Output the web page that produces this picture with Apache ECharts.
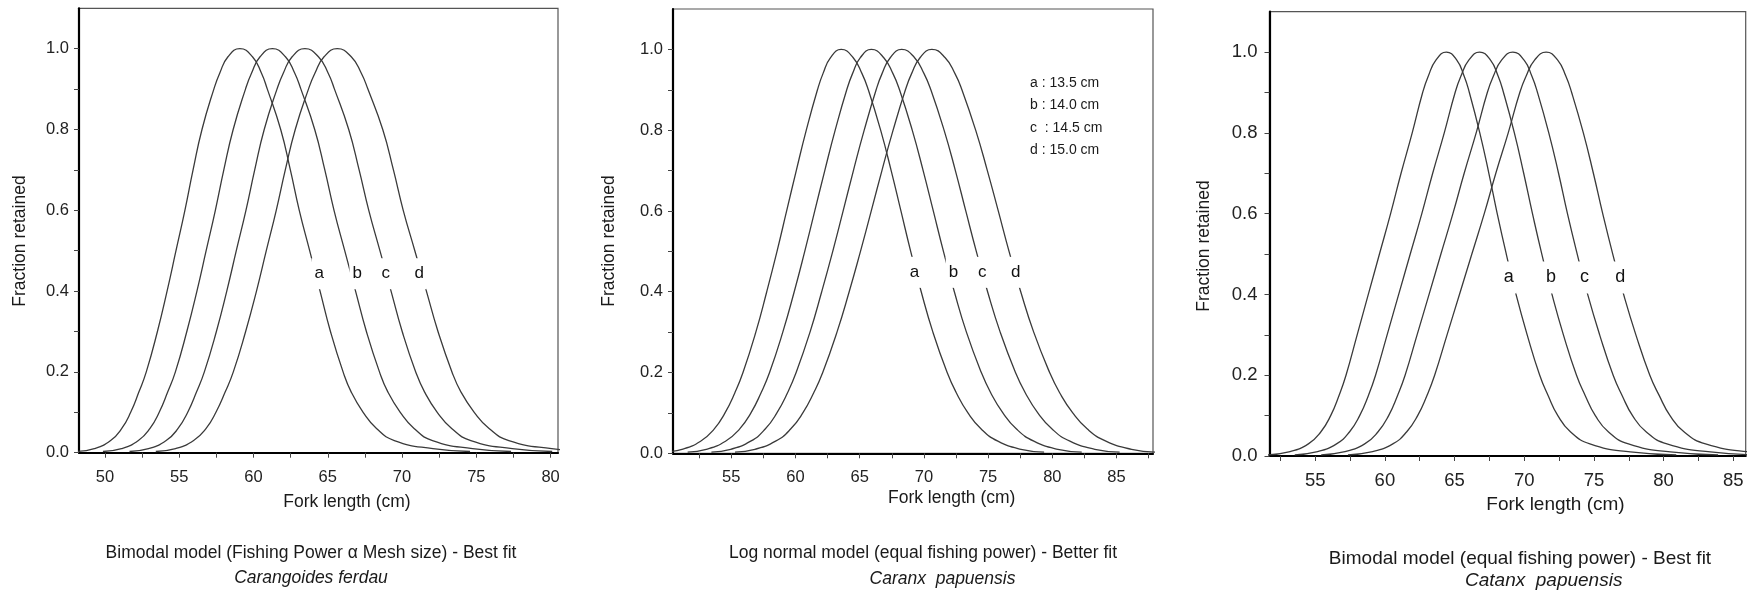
<!DOCTYPE html>
<html><head><meta charset="utf-8">
<script src="https://cdn.jsdelivr.net/npm/echarts/dist/echarts.min.js"></script>
<style>html,body{margin:0;padding:0;background:#fff}#c{width:1760px;height:593px}</style>
</head><body><div id="c"></div>
<script>
// Fraction retained levels at which fork lengths were read (rising side, peak, falling side)
const levels = [0.003, 0.01, 0.03, 0.06, 0.1, 0.15, 0.2, 0.3, 0.4, 0.5, 0.6, 0.7, 0.8, 0.9, 0.94, 0.98, 1.0,
                0.98, 0.94, 0.9, 0.8, 0.7, 0.6, 0.5, 0.4, 0.3, 0.2, 0.15, 0.1, 0.06, 0.03, 0.01, 0.003];
const curveNames = ['a', 'b', 'c', 'd'];

// Panel 1: Bimodal (fishing power ~ mesh size), Carangoides ferdau
const p1_a = [48.08, 49.28, 50.38, 51.13, 51.73, 52.28, 52.78, 53.53, 54.18, 54.78, 55.38, 55.93, 56.53, 57.33, 57.73, 58.28, 59.08, 59.93, 60.53, 60.93, 61.83, 62.48, 63.08, 63.78, 64.48, 65.18, 66.03, 66.58, 67.38, 68.28, 69.48, 72.08, 74.58];
const p1_b = [49.86, 51.11, 52.25, 53.03, 53.65, 54.22, 54.74, 55.51, 56.19, 56.81, 57.43, 58.00, 58.63, 59.46, 59.87, 60.44, 61.27, 62.15, 62.77, 63.19, 64.12, 64.80, 65.42, 66.14, 66.87, 67.60, 68.48, 69.05, 69.88, 70.81, 72.05, 74.75, 77.34];
const p1_c = [51.65, 52.93, 54.12, 54.92, 55.57, 56.16, 56.69, 57.50, 58.20, 58.84, 59.49, 60.08, 60.72, 61.58, 62.01, 62.60, 63.46, 64.37, 65.02, 65.45, 66.41, 67.11, 67.76, 68.51, 69.26, 70.01, 70.92, 71.52, 72.37, 73.34, 74.63, 77.42, 80.11];
const p1_d = [53.42, 54.75, 55.97, 56.81, 57.47, 58.09, 58.64, 59.47, 60.20, 60.86, 61.53, 62.14, 62.81, 63.70, 64.14, 64.75, 65.64, 66.58, 67.25, 67.70, 68.70, 69.42, 70.08, 70.86, 71.64, 72.42, 73.36, 73.97, 74.86, 75.86, 77.19, 80.08, 82.86];
const p1LabelX = [64.42, 66.98, 68.91, 71.15];
const p1LabelY = 0.443;

// Panel 2: Log normal (equal fishing power), Caranx papuensis
const p2_a = [49.76, 51.16, 52.61, 53.66, 54.51, 55.28, 55.91, 56.91, 57.76, 58.56, 59.31, 60.06, 60.84, 61.71, 62.14, 62.74, 63.56, 64.48, 65.18, 65.67, 66.63, 67.45, 68.21, 68.97, 69.79, 70.70, 71.81, 72.52, 73.43, 74.46, 75.76, 77.56, 79.36];
const p2_b = [51.60, 53.05, 54.55, 55.64, 56.53, 57.32, 57.98, 59.01, 59.90, 60.72, 61.50, 62.28, 63.09, 63.99, 64.44, 65.06, 65.91, 66.86, 67.59, 68.10, 69.09, 69.94, 70.73, 71.52, 72.37, 73.31, 74.47, 75.20, 76.15, 77.21, 78.56, 80.43, 82.29];
const p2_c = [53.45, 54.95, 56.51, 57.64, 58.55, 59.38, 60.05, 61.13, 62.04, 62.90, 63.71, 64.51, 65.35, 66.28, 66.74, 67.39, 68.27, 69.26, 70.01, 70.54, 71.57, 72.45, 73.26, 74.08, 74.96, 75.94, 77.13, 77.89, 78.87, 79.98, 81.37, 83.31, 85.24];
const p2_d = [55.29, 56.84, 58.45, 59.62, 60.57, 61.42, 62.12, 63.23, 64.18, 65.06, 65.90, 66.73, 67.60, 68.56, 69.04, 69.71, 70.62, 71.64, 72.42, 72.96, 74.03, 74.94, 75.79, 76.63, 77.54, 78.55, 79.79, 80.57, 81.59, 82.73, 84.17, 86.17, 88.17];
const p2LabelX = [69.26, 72.30, 74.55, 77.15];
const p2LabelY = 0.448;

// Panel 3: Bimodal (equal fishing power), Catanx papuensis
const p3_a = [51.61, 53.11, 54.51, 55.41, 56.11, 56.71, 57.21, 58.01, 58.81, 59.61, 60.41, 61.16, 61.96, 62.71, 63.11, 63.66, 64.41, 65.16, 65.69, 66.06, 66.81, 67.46, 68.06, 68.71, 69.41, 70.21, 71.11, 71.71, 72.41, 73.31, 74.71, 77.61, 80.91];
const p3_b = [53.53, 55.08, 56.53, 57.47, 58.19, 58.82, 59.33, 60.16, 60.99, 61.82, 62.65, 63.43, 64.26, 65.04, 65.45, 66.02, 66.80, 67.58, 68.13, 68.51, 69.29, 69.96, 70.59, 71.26, 71.99, 72.81, 73.75, 74.37, 75.10, 76.03, 77.48, 80.49, 83.91];
const p3_c = [55.43, 57.04, 58.55, 59.51, 60.27, 60.91, 61.45, 62.31, 63.17, 64.02, 64.88, 65.69, 66.55, 67.35, 67.78, 68.37, 69.18, 69.99, 70.55, 70.95, 71.76, 72.46, 73.10, 73.80, 74.55, 75.41, 76.38, 77.02, 77.77, 78.74, 80.24, 83.36, 86.90];
const p3_d = [57.35, 59.02, 60.57, 61.57, 62.35, 63.02, 63.57, 64.46, 65.35, 66.24, 67.13, 67.96, 68.85, 69.68, 70.13, 70.74, 71.57, 72.40, 72.99, 73.40, 74.24, 74.96, 75.63, 76.35, 77.13, 78.01, 79.01, 79.68, 80.46, 81.46, 83.01, 86.24, 89.90];
const p3LabelX = [68.89, 71.92, 74.33, 76.89];
const p3LabelY = 0.442;

// Tick values
const p1XLabels = [50, 55, 60, 65, 70, 75, 80];
const p1XTicks = [50, 52.5, 55, 57.5, 60, 62.5, 65, 67.5, 70, 72.5, 75, 77.5, 80];
const p2XLabels = [55, 60, 65, 70, 75, 80, 85];
const p2XTicks = [52.5, 55, 57.5, 60, 62.5, 65, 67.5, 70, 72.5, 75, 77.5, 80, 82.5, 85, 87.5];
const p3XLabels = [55, 60, 65, 70, 75, 80, 85];
const p3XTicks = [52.5, 55, 57.5, 60, 62.5, 65, 67.5, 70, 72.5, 75, 77.5, 80, 82.5, 85];
const yLabels = [0, 0.2, 0.4, 0.6, 0.8, 1.0];
const yTicks = [0, 0.1, 0.2, 0.3, 0.4, 0.5, 0.6, 0.7, 0.8, 0.9, 1.0];

// Texts
const yName = 'Fraction retained';
const xName = 'Fork length (cm)';
const captions = ['Bimodal model (Fishing Power \u03b1 Mesh size) - Best fit',
                  'Log normal model (equal fishing power) - Better fit',
                  'Bimodal model (equal fishing power) - Best fit'];
const species = ['Carangoides ferdau', 'Caranx  papuensis', 'Catanx  papuensis'];
const legendItems = ['a : 13.5 cm', 'b : 14.0 cm', 'c  : 14.5 cm', 'd : 15.0 cm'];

const FONT = '"Liberation Sans", Arial, Helvetica, sans-serif';

const panels = [
  { grid: {left: 79, top: 8.3, width: 479, height: 444.4}, xMin: 48.25, xMax: 80.5,
    curves: [p1_a, p1_b, p1_c, p1_d], labX: p1LabelX, labY: p1LabelY,
    xLabels: p1XLabels, xTicks: p1XTicks, tickFont: 16.5, labFont: 17, yMargin: 10, xMargin: 16.5,
    yNamePos: [20, 241], xNamePos: [347, 501.7], capPos: [311, 553], spPos: [311, 578], textFont: 17.5 },
  { grid: {left: 673, top: 9, width: 480, height: 444.3}, xMin: 50.46, xMax: 87.84,
    curves: [p2_a, p2_b, p2_c, p2_d], labX: p2LabelX, labY: p2LabelY,
    xLabels: p2XLabels, xTicks: p2XTicks, tickFont: 16.5, labFont: 17, yMargin: 10, xMargin: 16,
    yNamePos: [609, 241], xNamePos: [951.7, 498.3], capPos: [923, 553.3], spPos: [942.5, 579], textFont: 17.5 },
  { grid: {left: 1269.5, top: 11.7, width: 476.2, height: 444.3}, xMin: 51.72, xMax: 85.89,
    curves: [p3_a, p3_b, p3_c, p3_d], labX: p3LabelX, labY: p3LabelY,
    xLabels: p3XLabels, xTicks: p3XTicks, tickFont: 18.5, labFont: 18, yMargin: 12, xMargin: 15.5,
    yNamePos: [1204, 246], xNamePos: [1555.5, 505], capPos: [1520, 558.3], spPos: [1543.7, 581], textFont: 19 }
];

const grids = [], xAxes = [], yAxes = [], series = [], graphic = [];
panels.forEach((p, i) => {
  grids.push(Object.assign({show: true, borderColor: '#555', borderWidth: 1.2, backgroundColor: 'transparent'}, p.grid));
  xAxes.push({
    type: 'value', gridIndex: i, min: p.xMin, max: p.xMax,
    axisLine: {show: true, onZero: false, lineStyle: {color: '#000', width: 2.2}},
    axisTick: {show: true, length: 5, customValues: p.xTicks, lineStyle: {color: '#444', width: 1}},
    axisLabel: {customValues: p.xLabels, margin: p.xMargin, fontSize: p.tickFont, color: '#222', fontFamily: FONT,
                formatter: v => String(Math.round(v))},
    splitLine: {show: false}
  });
  yAxes.push({
    type: 'value', gridIndex: i, min: 0, max: 1.1,
    axisLine: {show: true, onZero: false, lineStyle: {color: '#000', width: 2.2}},
    axisTick: {show: true, length: 5, customValues: yTicks, lineStyle: {color: '#444', width: 1}},
    axisLabel: {customValues: yLabels, margin: p.yMargin, fontSize: p.tickFont, color: '#222', fontFamily: FONT,
                formatter: v => v.toFixed(1)},
    splitLine: {show: false}
  });
  p.curves.forEach((xs, k) => {
    series.push({
      type: 'line', xAxisIndex: i, yAxisIndex: i, name: curveNames[k],
      data: xs.map((x, j) => [x, levels[j]]),
      symbol: 'none', showSymbol: false, smooth: 0.5, clip: true,
      lineStyle: {color: '#3a3a3a', width: 1.3}, silent: true, z: 3
    });
  });
  series.push({
    type: 'scatter', xAxisIndex: i, yAxisIndex: i, z: 10, symbolSize: 1,
    itemStyle: {color: 'rgba(0,0,0,0)'}, silent: true,
    data: p.labX.map((x, k) => ({value: [x, p.labY], name: curveNames[k]})),
    label: {show: true, position: 'inside', formatter: '{b}', fontSize: p.labFont, fontFamily: FONT,
            color: '#111', backgroundColor: '#fff', padding: [7, 3], opacity: 1}
  });
  const txt = (pos, text, size, extra) => Object.assign({
    type: 'text', x: pos[0], y: pos[1], silent: true,
    style: Object.assign({text: text, fontSize: size, fontFamily: FONT, fill: '#1a1a1a', align: 'center', verticalAlign: 'middle'}, extra || {})
  });
  graphic.push(Object.assign(txt(p.yNamePos, yName, 17.5), {rotation: Math.PI / 2}));
  graphic.push(txt(p.xNamePos, xName, p.textFont));
  graphic.push(txt(p.capPos, captions[i], p.textFont));
  graphic.push(txt(p.spPos, species[i], p.textFont, {fontStyle: 'italic'}));
});
const legendY = [83.3, 105, 128.3, 150];
legendItems.forEach((t, k) => {
  graphic.push({type: 'text', x: 1030, y: legendY[k], silent: true,
    style: {text: t, fontSize: 14, fontFamily: FONT, fill: '#1a1a1a', align: 'left', verticalAlign: 'middle'}});
});

const chart = echarts.init(document.getElementById('c'), null, {renderer: 'canvas'});
chart.setOption({
  animation: false, backgroundColor: '#fff',
  grid: grids, xAxis: xAxes, yAxis: yAxes, series: series, graphic: graphic
});
</script></body></html>
